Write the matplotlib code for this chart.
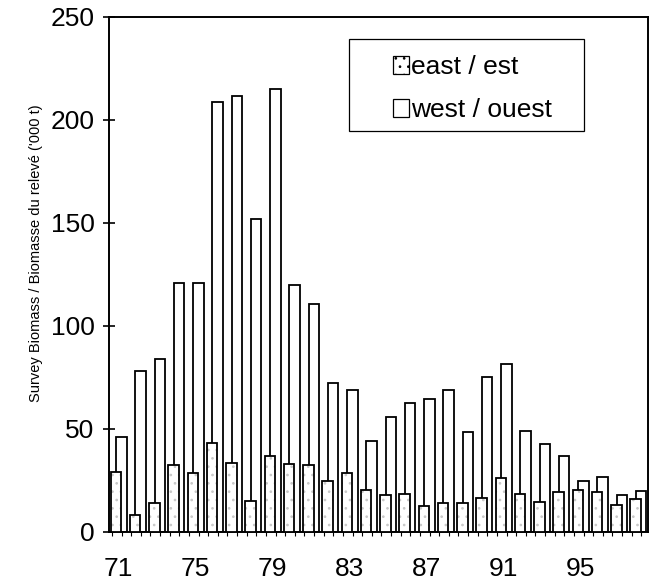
import numpy as np
import matplotlib
matplotlib.use("Agg")
import matplotlib.pyplot as plt
from matplotlib.patches import Patch, Rectangle

# survey biomass ('000 t)
years = list(range(71, 99))
east = [29.0, 7.8, 13.8, 32.1, 28.2, 43.2, 33.1, 15.0, 36.7, 32.7, 32.1, 24.3, 28.6, 20.3,
        17.7, 18.4, 12.6, 13.6, 13.7, 16.5, 26.1, 18.0, 14.3, 19.1, 20.2, 19.0, 12.9, 15.7]
west = [46.0, 78.0, 83.7, 120.8, 120.7, 208.7, 211.6, 151.8, 214.9, 119.9, 110.2, 72.1, 68.7, 44.0,
        55.7, 62.2, 64.1, 68.8, 48.4, 75.0, 81.4, 48.9, 42.6, 36.6, 24.3, 26.3, 17.8, 19.8]
label_years = [71, 75, 79, 83, 87, 91, 95]

plt.rcParams["font.family"] = ["Liberation Sans", "DejaVu Sans"]
plt.rcParams["hatch.linewidth"] = 0.7

fig = plt.figure(figsize=(6.49, 5.84), dpi=100)
ax = fig.add_axes([109 / 649, 52.5 / 584, 539 / 649, 515 / 584])

x = np.arange(len(years))
w, off = 0.55, 0.14
# west behind, east in front (overlapping clustered bars)
ax.bar(x + off, west, width=w, facecolor="white", edgecolor="black", lw=1.3, zorder=2)
ax.bar(x - off, east, width=w, facecolor="white", edgecolor="#c8c8c8", hatch="..", lw=0, zorder=3)
ax.bar(x - off, east, width=w, facecolor="none", edgecolor="black", lw=1.3, zorder=4)

ax.set_xlim(-0.5, len(years) - 0.5)
ax.set_ylim(0, 250)
ax.set_yticks(range(0, 251, 50))
ax.set_xticks([years.index(y) for y in label_years])
ax.set_xticklabels([str(y) for y in label_years])
ax.set_xticks(np.concatenate([x - 0.35, x + 0.15]), minor=True)
ax.tick_params(axis="y", direction="inout", length=9, width=1.2, labelsize=19, pad=6)
ax.tick_params(axis="x", which="major", length=0, labelsize=19, pad=18)
ax.tick_params(axis="x", which="minor", direction="out", length=3, width=0.8)
for s in ax.spines.values():
    s.set_linewidth(1.4)

ax.set_ylabel("Survey Biomass / Biomasse du relevé ('000 t)", fontsize=10.5)
ax.yaxis.set_label_coords(-0.122, 0.54)

# legend box drawn as a plain rectangle, entries without frame inside it
ax.add_patch(Rectangle((0.445, 0.778), 0.436, 0.179, transform=ax.transAxes,
                       facecolor="white", edgecolor="black", lw=0.9, zorder=5))
handles = [Patch(facecolor="white", edgecolor="black", hatch="..", lw=0.9, label="east / est"),
           Patch(facecolor="white", edgecolor="black", lw=0.9, label="west / ouest")]
ax.legend(handles=handles, loc="upper left", bbox_to_anchor=(0.517, 0.935), frameon=False,
          fontsize=19, handlelength=0.6, handleheight=0.62, handletextpad=0.1,
          labelspacing=0.72, borderpad=0.2, borderaxespad=0).set_zorder(6)

fig.savefig("out.png", dpi=100)
